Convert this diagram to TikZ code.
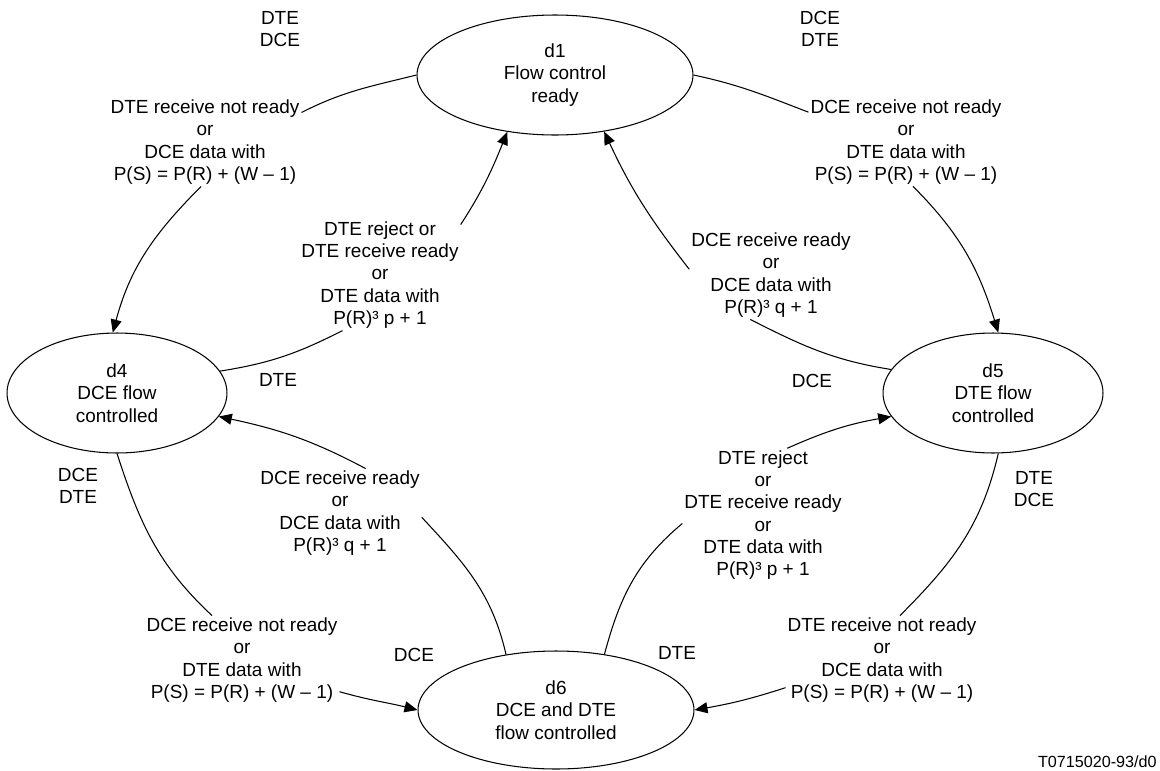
\documentclass[tikz,border=0pt]{standalone}
\usepackage{fontspec}
\setmainfont{Liberation Sans}
\usetikzlibrary{shapes.geometric,arrows.meta}

\begin{document}
\begin{tikzpicture}[x=0.02cm,y=0.02cm,
  every node/.style={font=\fontsize{10.8}{12.7}\selectfont},
  state/.style={draw, ellipse, line width=0.6pt, inner sep=0pt, align=center, minimum height=2.4cm},
  cond/.style={align=center, inner sep=1pt},
  side/.style={align=center, inner sep=0pt},
  link/.style={line width=0.6pt},
  arr/.style={link, -{Triangle[length=2.6mm,width=2.2mm]}}]
\useasboundingbox (0,0) rectangle (1160,-771);

\node[state, minimum width=5.52cm] (d1) at (555,-75) {d1\\Flow control\\ready};
\node[state, minimum width=4.4cm] (d4) at (117,-393) {d4\\DCE flow\\controlled};
\node[state, minimum width=4.4cm] (d5) at (993,-393) {d5\\DTE flow\\controlled};
\node[state, minimum width=5.52cm, minimum height=2.36cm] (d6) at (556,-710) {d6\\DCE and DTE\\flow controlled};

\node[cond] (la) at (205,-142) {DTE receive not ready\\or\\DCE data with\\P(S) = P(R) + (W -- 1)};
\node[cond] (lb) at (380,-275) {DTE reject or\\DTE receive ready\\or\\DTE data with\\P(R)³ p + 1};
\node[cond] (lc) at (771,-275) {DCE receive ready\\or\\DCE data with\\P(R)³ q + 1};
\node[cond] (ld) at (906,-142) {DCE receive not ready\\or\\DTE data with\\P(S) = P(R) + (W -- 1)};
\node[cond] (le) at (340,-513) {DCE receive ready\\or\\DCE data with\\P(R)³ q + 1};
\node[cond] (lf) at (242,-660) {DCE receive not ready\\or\\DTE data with\\P(S) = P(R) + (W -- 1)};
\node[cond] (lg) at (763,-515) {DTE reject\\or\\DTE receive ready\\or\\DTE data with\\P(R)³ p + 1};
\node[cond] (lh) at (882,-660) {DTE receive not ready\\or\\DCE data with\\P(S) = P(R) + (W -- 1)};

\node[side] (s1) at (280,-29) {DTE\\DCE};
\node[side] (s2) at (820,-29) {DCE\\DTE};
\node[side] (s3) at (278,-380) {DTE};
\node[side] (s4) at (812,-381) {DCE};
\node[side] (s5) at (78,-486) {DCE\\DTE};
\node[side] (s6) at (414,-655) {DCE};
\node[side] (s7) at (677,-653) {DTE};
\node[side] (s8) at (1034,-489) {DTE\\DCE};
\node[side, anchor=east, font=\fontsize{9.2}{10}\selectfont] (fig) at (1157,-762) {T0715020-93/d0};

\draw[link] (d1.west) to[out=194,in=27] (la.17);
\draw[arr] (la.-95) to[out=225,in=75] (d4.94);

\draw[link] (d4.12) to[out=9,in=207] (lb.236);
\draw[arr] (lb.32) to[out=57,in=248] (d1.230);

\draw[link] (d5.167) to[out=171,in=-27] (lc.245);
\draw[arr] (lc.176) to[out=128,in=-65] (d1.-49);

\draw[link] (d1.east) to[out=-12,in=159] (ld.163);
\draw[arr] (ld.-81) to[out=-45,in=107] (d5.85);

\draw[link] (d4.south) to[out=-72,in=137] (lf.124);
\draw[arr] (lf.-18) to[out=-16,in=166] (d6.west);

\draw[link] (d6.132) to[out=103,in=-47] (le.-3);
\draw[arr] (le.60) to[out=152,in=-12] (d4.-13);

\draw[link] (d6.49) to[out=75,in=220] (lg.186);
\draw[arr] (lg.70) to[out=24,in=190] (d5.193);

\draw[link] (d5.-85) to[out=-103,in=45] (lh.68);
\draw[arr] (lh.196) to[out=198,in=10] (d6.east);
\end{tikzpicture}
\end{document}
